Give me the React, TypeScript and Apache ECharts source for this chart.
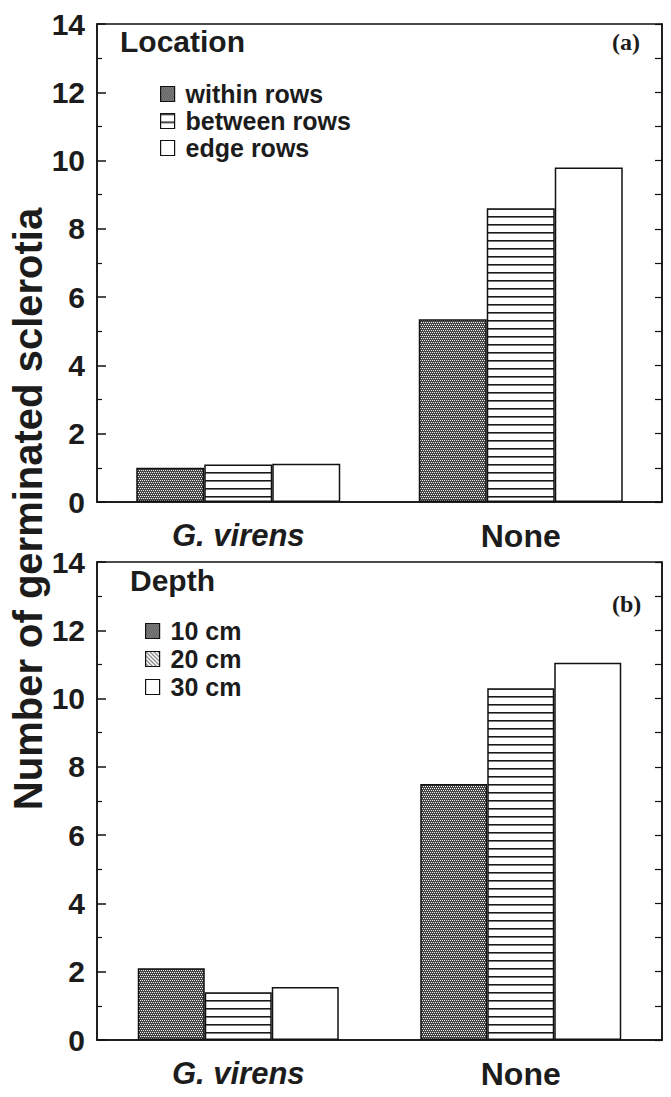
import React, { useEffect, useRef } from "react";
import * as echarts from "echarts";

const categories = ["G. virens", "None"];
const locationNames = ["within rows", "between rows", "edge rows"];
const withinRows = [1.0, 5.35];
const betweenRows = [1.1, 8.6];
const edgeRows = [1.12, 9.8];
const depthNames = ["10 cm", "20 cm", "30 cm"];
const depth10 = [2.1, 7.5];
const depth20 = [1.4, 10.3];
const depth30 = [1.55, 11.05];
const yTicks = [0, 2, 4, 6, 8, 10, 12, 14];

function makeTile(w: number, h: number, draw: (ctx: CanvasRenderingContext2D) => void) {
  const c = document.createElement("canvas");
  c.width = w;
  c.height = h;
  const ctx = c.getContext("2d")!;
  ctx.fillStyle = "#ffffff";
  ctx.fillRect(0, 0, w, h);
  draw(ctx);
  return { image: c.toDataURL(), repeat: "repeat", imageWidth: w, imageHeight: h } as any;
}

export default function App() {
  const ref = useRef<HTMLDivElement>(null);
  useEffect(() => {
    if (!ref.current) return;
    const chart = echarts.init(ref.current, undefined, { renderer: "svg" });

    const stipple = makeTile(4, 4, (ctx) => {
      ctx.fillStyle = "#454545";
      ctx.fillRect(0, 0, 4, 4);
      ctx.fillStyle = "#f2f2f2";
      [[0, 0], [2, 0], [1, 2], [3, 2]].forEach(([x, y]) => ctx.fillRect(x, y, 1, 1));
    });
    const hlines = makeTile(4, 8, (ctx) => {
      ctx.fillStyle = "#1a1a1a";
      ctx.fillRect(0, 0, 4, 1);
      ctx.fillStyle = "#777777";
      ctx.fillRect(0, 1, 4, 1);
    });
    const diag = makeTile(4, 4, (ctx) => {
      ctx.fillStyle = "#222222";
      for (let i = 0; i < 4; i++) ctx.fillRect(i, i, 1, 1);
    });

    const textColor = "#1c1c1c";
    const gridTops = [24, 562];
    const gridH = 478;

    const makeYAxes = (gi: number) => [
      {
        type: "value",
        gridIndex: gi,
        min: 0,
        max: 14,
        interval: 2,
        axisLine: { show: true, lineStyle: { color: "#111", width: 1.5 } },
        axisTick: { show: true, inside: true, length: 9, lineStyle: { color: "#111", width: 1.5 } },
        minorTick: { show: true, splitNumber: 2, length: 5, lineStyle: { color: "#111", width: 1.2 } },
        splitLine: { show: false },
        axisLabel: {
          show: true,
          fontSize: 30,
          fontWeight: "bold",
          fontFamily: "Liberation Sans, Arial, sans-serif",
          color: textColor,
          margin: 12,
          customValues: yTicks,
        },
      },
      {
        type: "value",
        gridIndex: gi,
        position: "right",
        min: 0,
        max: 14,
        interval: 1,
        axisLine: { show: true, lineStyle: { color: "#111", width: 1.5 } },
        axisTick: { show: true, inside: true, length: 7, lineStyle: { color: "#111", width: 1.2 } },
        splitLine: { show: false },
        axisLabel: { show: false },
      },
    ];

    const makeXAxis = (gi: number) => ({
      type: "category",
      gridIndex: gi,
      data: categories,
      axisLine: { show: true, lineStyle: { color: "#111", width: 1.5 } },
      axisTick: { show: true, inside: true, alignWithLabel: true, length: 8, lineStyle: { color: "#111", width: 1.2 } },
      axisLabel: {
        margin: 18,
        color: textColor,
        formatter: (v: string) => (v === "G. virens" ? "{i|" + v + "}" : "{b|" + v + "}"),
        rich: {
          i: { fontSize: 31, fontWeight: "bold", fontStyle: "italic", fontFamily: "Liberation Sans, Arial, sans-serif", color: textColor },
          b: { fontSize: 32, fontWeight: "bold", fontFamily: "Liberation Sans, Arial, sans-serif", color: textColor },
        },
      },
    });

    const barStyle = (fill: any) => ({ color: fill, borderColor: "#111", borderWidth: 1.5 });
    const fills = [stipple, hlines, "#ffffff"];

    const series: any[] = [];
    [withinRows, betweenRows, edgeRows].forEach((d, i) => {
      series.push({
        type: "bar",
        name: locationNames[i],
        xAxisIndex: 0,
        yAxisIndex: 0,
        data: d,
        barWidth: 68,
        barGap: "0%",
        itemStyle: barStyle(fills[i]),
      });
    });
    [depth10, depth20, depth30].forEach((d, i) => {
      series.push({
        type: "bar",
        name: depthNames[i],
        xAxisIndex: 1,
        yAxisIndex: 2,
        data: d,
        barWidth: 67,
        barGap: "0%",
        itemStyle: barStyle(fills[i]),
      });
    });

    const legendText = {
      fontSize: 25,
      fontWeight: "bold",
      fontFamily: "Liberation Sans, Arial, sans-serif",
      color: textColor,
      lineHeight: 26,
      padding: [0, 0, 0, 6],
    };

    const option: any = {
      animation: false,
      backgroundColor: "#ffffff",
      grid: gridTops.map((t) => ({
        left: 97,
        right: 9,
        top: t,
        height: gridH,
        show: true,
        borderColor: "#111",
        borderWidth: 1.5,
        backgroundColor: "transparent",
      })),
      xAxis: [makeXAxis(0), makeXAxis(1)],
      yAxis: [...makeYAxes(0), ...makeYAxes(1)],
      legend: [
        {
          orient: "vertical",
          left: 155,
          top: 76,
          itemWidth: 14,
          itemHeight: 15,
          itemGap: 1,
          icon: "rect",
          selectedMode: false,
          data: locationNames,
          textStyle: legendText,
          itemStyle: { borderColor: "#111", borderWidth: 1.2 },
        },
        {
          orient: "vertical",
          left: 140,
          top: 613,
          itemWidth: 14,
          itemHeight: 15,
          itemGap: 2,
          icon: "rect",
          selectedMode: false,
          data: [depthNames[0], { name: depthNames[1], itemStyle: { color: diag } }, depthNames[2]],
          textStyle: legendText,
          itemStyle: { borderColor: "#111", borderWidth: 1.2 },
        },
      ],
      graphic: [
        {
          type: "text",
          left: 120,
          top: 26,
          style: { text: "Location", fontSize: 30, fontWeight: "bold", fontFamily: "Liberation Sans, Arial, sans-serif", fill: textColor },
        },
        {
          type: "text",
          left: 612,
          top: 30,
          style: { text: "(a)", fontSize: 24, fontWeight: "bold", fontFamily: "Liberation Serif, Times New Roman, serif", fill: textColor },
        },
        {
          type: "text",
          left: 130,
          top: 565,
          style: { text: "Depth", fontSize: 30, fontWeight: "bold", fontFamily: "Liberation Sans, Arial, sans-serif", fill: textColor },
        },
        {
          type: "text",
          left: 612,
          top: 592,
          style: { text: "(b)", fontSize: 24, fontWeight: "bold", fontFamily: "Liberation Serif, Times New Roman, serif", fill: textColor },
        },
        {
          type: "text",
          x: 28,
          y: 509,
          rotation: Math.PI / 2,
          style: {
            text: "Number of germinated sclerotia",
            fontSize: 40,
            fontWeight: "bold",
            fontFamily: "Liberation Sans, Arial, sans-serif",
            fill: textColor,
            align: "center",
            verticalAlign: "middle",
          },
        },
      ],
      series,
    };

    chart.setOption(option);
    return () => chart.dispose();
  }, []);

  return <div ref={ref} style={{ width: 671, height: 1097, position: "absolute", left: 0, top: 0 }} />;
}
